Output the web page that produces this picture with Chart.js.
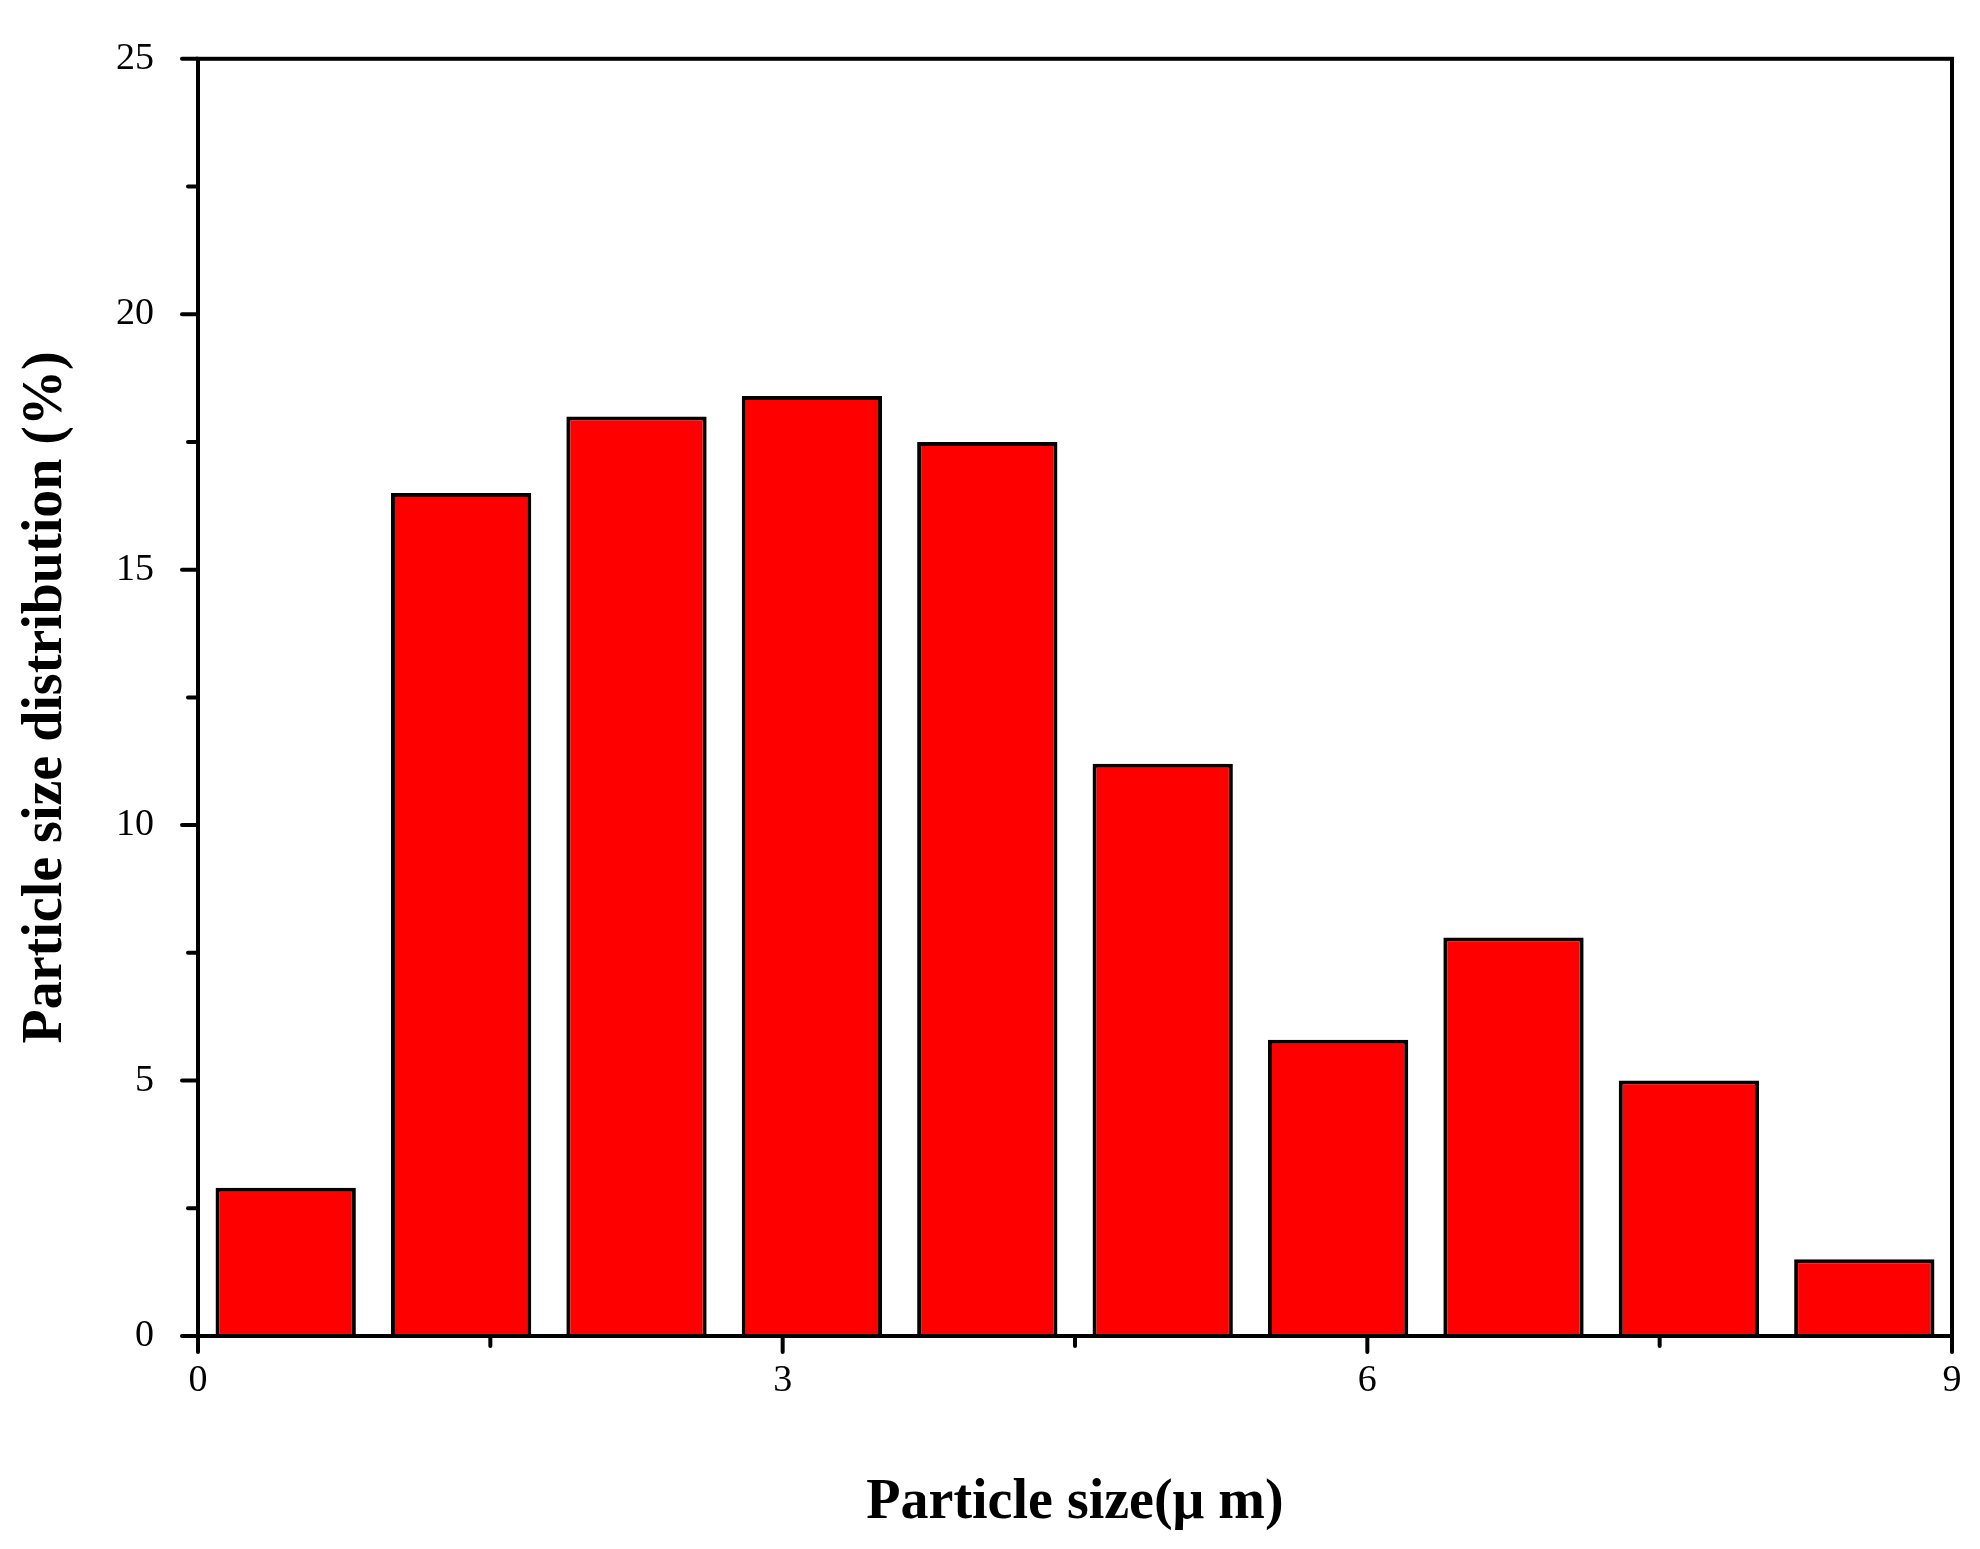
<!DOCTYPE html>
<html><head><meta charset="utf-8">
<script src="https://cdn.jsdelivr.net/npm/chart.js@4"></script>
<style>html,body{margin:0;padding:0;background:#fff}</style>
</head><body>
<canvas id="c" width="1980" height="1549" style="width:1980px;height:1549px"></canvas>
<script>
const binCenters = [0.45, 1.35, 2.25, 3.15, 4.05, 4.95, 5.85, 6.75, 7.65, 8.55];
const distribution = [2.9, 16.5, 18.0, 18.4, 17.5, 11.2, 5.8, 7.8, 5.0, 1.5];
const xTickLabels = [0, 3, 6, 9];
const yTickLabels = [0, 5, 10, 15, 20, 25];

const frame = {
  id: 'frame',
  afterDatasetsDraw(chart) {
    const {ctx, chartArea: a, scales: {x, y}} = chart;
    ctx.save();
    ctx.strokeStyle = '#000';
    ctx.lineWidth = 4;
    ctx.lineCap = 'round';
    ctx.strokeRect(a.left, a.top, a.right - a.left, a.bottom - a.top);
    x.ticks.forEach(t => {
      const px = x.getPixelForValue(t.value);
      const len = xTickLabels.includes(t.value) ? 16 : 10;
      ctx.beginPath(); ctx.moveTo(px, a.bottom); ctx.lineTo(px, a.bottom + len); ctx.stroke();
    });
    y.ticks.forEach(t => {
      const py = y.getPixelForValue(t.value);
      const len = yTickLabels.includes(t.value) ? 16 : 10;
      ctx.beginPath(); ctx.moveTo(a.left, py); ctx.lineTo(a.left - len, py); ctx.stroke();
    });
    ctx.restore();
  }
};

new Chart(document.getElementById('c'), {
  type: 'bar',
  data: {
    datasets: [{
      data: binCenters.map((c, i) => ({x: c, y: distribution[i]})),
      backgroundColor: '#ff0000',
      borderColor: '#000',
      borderWidth: 4,
      borderSkipped: 'bottom',
      barPercentage: 0.8,
      categoryPercentage: 1.0
    }]
  },
  options: {
    responsive: false,
    animation: false,
    layout: {padding: {left: 0, top: 42, right: 28, bottom: 0}},
    plugins: {legend: {display: false}, tooltip: {enabled: false}},
    scales: {
      x: {
        type: 'linear', min: 0, max: 9, offset: false,
        grid: {display: false}, border: {display: false},
        ticks: {stepSize: 1.5, padding: 14, maxRotation: 0, autoSkip: false,
          color: '#000', font: {family: 'Liberation Serif', size: 38},
          callback: v => xTickLabels.includes(v) ? String(v) : ''},
        title: {display: true, text: 'Particle size(μ m)', color: '#000',
          font: {family: 'Liberation Serif', size: 56, weight: 'bold'}, padding: {top: 0, bottom: 12}},
        afterFit: s => { s.height = 213; }
      },
      y: {
        min: 0, max: 25,
        grid: {display: false}, border: {display: false},
        ticks: {stepSize: 2.5, padding: 36, autoSkip: false, color: '#000',
          font: {family: 'Liberation Serif', size: 38},
          callback: v => yTickLabels.includes(v) ? String(v) : ''},
        title: {display: true, text: 'Particle size distribution (%)', color: '#000',
          font: {family: 'Liberation Serif', size: 56, weight: 'bold'}, padding: {top: 13, bottom: 0}},
        afterFit: s => { s.width = 198; }
      }
    }
  },
  plugins: [frame]
});
</script>
</body></html>
